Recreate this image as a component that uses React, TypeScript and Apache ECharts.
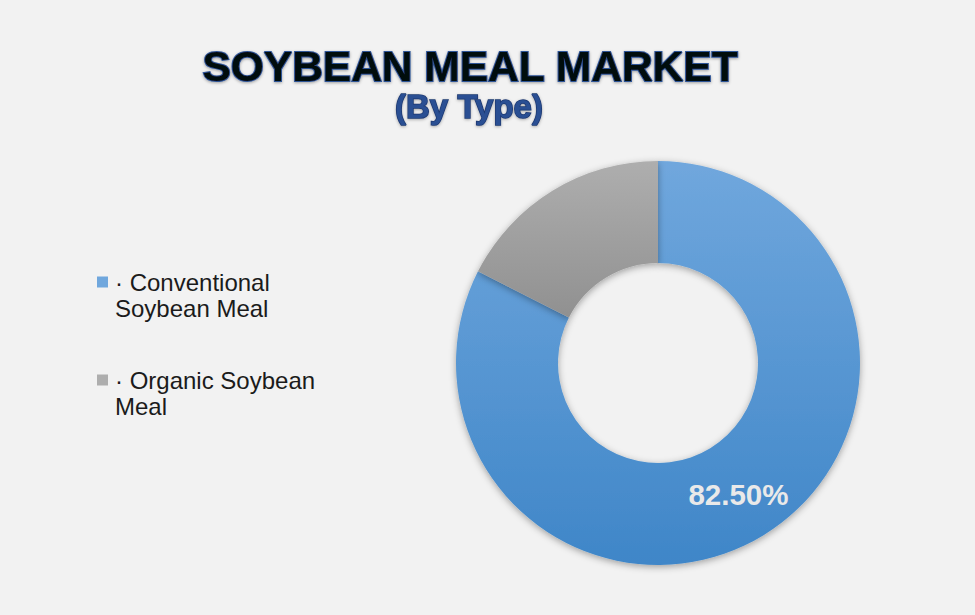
import React, { useEffect, useRef } from "react";
import * as echarts from "echarts";

const titleText = "SOYBEAN MEAL MARKET";
const subtitleText = "(By Type)";
const categories = ["Conventional Soybean Meal", "Organic Soybean Meal"];
const legendLabels = ["· Conventional\nSoybean Meal", "· Organic Soybean\nMeal"];
const shares = [82.5, 17.5];
const showLabel = [true, false];

export default function App() {
  const ref = useRef<HTMLDivElement>(null);
  useEffect(() => {
    document.body.style.margin = "0";
    const chart = echarts.init(ref.current!, null, { renderer: "svg" });
    const font = "'Liberation Sans', Arial, sans-serif";
    const blue = new echarts.graphic.LinearGradient(0, 161, 0, 565, [
      { offset: 0, color: "#70a7dd" },
      { offset: 1, color: "#3f86c8" },
    ], true);
    const gray = new echarts.graphic.LinearGradient(0, 161, 0, 330, [
      { offset: 0, color: "#aeaeae" },
      { offset: 1, color: "#8e8e8e" },
    ], true);
    const fills = [blue, gray];
    chart.setOption({
      animation: false,
      backgroundColor: "#f2f2f2",
      title: [
        {
          text: titleText,
          left: 470,
          top: 45,
          padding: 0,
          textAlign: "center",
          textStyle: {
            fontFamily: font,
            fontWeight: "bold",
            fontSize: 42.5,
            color: "#05070f",
            textBorderColor: "#2f5597",
            textBorderWidth: 2,
            textShadowColor: "rgba(0,0,0,0.35)",
            textShadowBlur: 3,
            textShadowOffsetY: 1,
          },
        },
        {
          text: subtitleText,
          left: 469,
          top: 90,
          padding: 0,
          textAlign: "center",
          textStyle: {
            fontFamily: font,
            fontWeight: "bold",
            fontSize: 33,
            color: "#2a4f93",
            textBorderColor: "#1d3870",
            textBorderWidth: 1.5,
            textShadowColor: "rgba(0,0,0,0.3)",
            textShadowBlur: 3,
            textShadowOffsetY: 1,
          },
        },
      ],
      legend: {
        orient: "vertical",
        left: 97,
        top: 243,
        padding: 0,
        itemWidth: 11,
        itemHeight: 11,
        itemGap: 20,
        icon: "rect",
        data: categories,
        formatter: (name: string) => "\n" + legendLabels[categories.indexOf(name)],
        textStyle: {
          fontFamily: font,
          fontSize: 24,
          lineHeight: 26,
          color: "#1b1b1b",
          padding: [0, 0, 0, 2],
        },
      },
      series: [
        {
          type: "pie",
          center: [658, 363],
          radius: [100, 202],
          startAngle: 90,
          clockwise: true,
          avoidLabelOverlap: false,
          legendHoverLink: false,
          silent: true,
          itemStyle: {
            shadowBlur: 7,
            shadowColor: "rgba(0,0,0,0.35)",
            shadowOffsetY: 2,
          },
          label: {
            position: "inside",
            fontFamily: font,
            fontWeight: "bold",
            fontSize: 29.5,
            color: "#e9e9e9",
            formatter: (p: any) => p.value.toFixed(2) + "%",
          },
          labelLine: { show: false },
          data: categories.map((name, i) => ({
            name,
            value: shares[i],
            itemStyle: { color: fills[i] },
            label: { show: showLabel[i] },
          })),
        },
      ],
    });
    return () => chart.dispose();
  }, []);
  return <div ref={ref} style={{ width: 975, height: 615 }} />;
}
